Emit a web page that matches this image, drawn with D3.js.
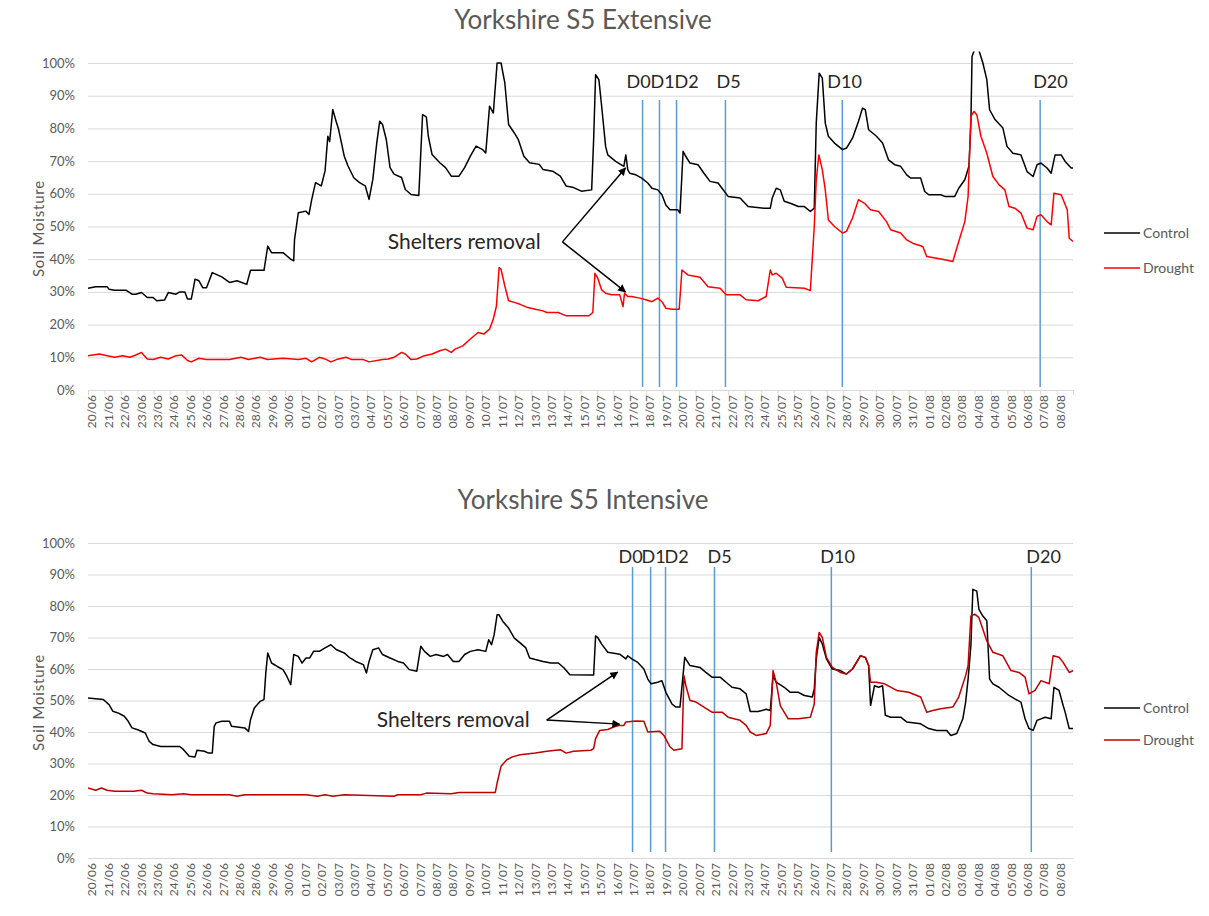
<!DOCTYPE html>
<html>
<head>
<meta charset="utf-8">
<style>
  body { margin: 0; background: #fff; }
  svg text { font-family: Lato, "Open Sans", sans-serif; }
  .gridlines line { stroke: #d9d9d9; }
  .gridlines .domain { stroke: none; }
</style>
<script src="https://d3js.org/d3.v7.min.js"></script>
</head>
<body>
<svg id="chart" width="1209" height="916"></svg>
<script>
// category labels along the x axis (one per tick slot)
const dateLabels = ["20/06","21/06","22/06","23/06","23/06","24/06","25/06","26/06","27/06","28/06","28/06","29/06","30/06",
  "01/07","02/07","03/07","03/07","04/07","05/07","06/07","07/07","08/07","08/07","09/07","10/07","11/07","12/07","13/07","13/07",
  "14/07","15/07","15/07","16/07","17/07","18/07","19/07","20/07","20/07","21/07","22/07","23/07","24/07","25/07","25/07","26/07",
  "27/07","28/07","29/07","30/07","30/07","31/07","01/08","02/08","03/08","04/08","04/08","05/08","06/08","07/08","08/08"];

const yTicks = [0, 10, 20, 30, 40, 50, 60, 70, 80, 90, 100];
const seriesNames = ["Control", "Drought"];
const dayMarks = ["D0", "D1", "D2", "D5", "D10", "D20"];

// [slot, soil moisture %]
const extControl = [[0,31.1],[0.47,31.6],[1.16,31.6],[1.28,30.8],[1.63,30.5],[2.33,30.5],[2.68,29.3],[2.91,29.3],[3.26,29.8],[3.61,28.3],
  [3.96,28.3],[4.19,27.3],[4.66,27.5],[4.89,29.8],[5.36,29.3],[5.59,30],[5.9,30],[6.06,27.8],[6.29,27.8],[6.4,30.6],[6.52,33.9],[6.76,33.4],
  [6.99,31.3],[7.22,31.3],[7.57,35.9],[8.15,34.6],[8.62,32.9],[9.08,33.4],[9.67,32.3],[9.9,36.6],[10.72,36.6],[10.95,44],[11.18,42],
  [11.88,42],[12.35,40],[12.53,39.5],[12.58,46],[12.81,54.2],[13.28,54.7],[13.46,53.7],[13.63,58.3],[13.86,63.4],[14.21,62.4],[14.44,67],
  [14.61,77.6],[14.72,76],[14.91,85.8],[15.14,81.7],[15.25,80],[15.61,71.5],[15.84,68.5],[16.19,64.9],[16.54,63.4],[16.89,62.4],[17.12,58.3],
  [17.35,64.4],[17.59,75.6],[17.77,82.2],[17.94,81.2],[18.17,76.6],[18.4,68],[18.64,66],[19.1,65],[19.33,61.3],[19.68,59.8],[20.15,59.5],
  [20.38,84.2],[20.61,83.5],[20.73,77.6],[20.96,72],[21.43,69.5],[21.78,68],[22.13,65.4],[22.6,65.4],[22.94,68],[23.29,71.5],[23.64,74.6],
  [24.04,73.5],[24.23,72.5],[24.46,86.8],[24.69,84.7],[24.92,100],[25.16,100],[25.39,93.9],[25.62,81.2],[25.97,78.6],[26.21,76.6],
  [26.55,71.5],[26.9,69.5],[27.49,69],[27.72,67.4],[28.3,66.9],[28.77,65.4],[29.12,62.4],[29.58,61.9],[30.05,60.8],[30.68,61.2],[30.8,76.5],
  [30.92,96.4],[31.12,94.9],[31.29,86.7],[31.53,74.5],[31.66,71.9],[32.14,69.9],[32.64,68.4],[32.76,71.9],[32.88,67.3],[33,66.3],[33.37,65.8],
  [33.73,64.8],[34.1,63.3],[34.35,61.7],[34.71,61.2],[34.96,59.7],[35.2,56.6],[35.45,55.1],[35.93,55.1],[36.06,54.1],[36.25,73],[36.42,71.4],
  [36.67,69.4],[37.16,68.9],[37.52,66.3],[37.89,63.8],[38.38,63.3],[38.62,61.7],[38.99,59.2],[39.72,58.7],[40.21,56.1],[41.19,55.6],
  [41.56,55.6],[41.68,58.7],[41.92,61.7],[42.17,61.2],[42.41,57.7],[42.78,57.1],[43.27,56.1],[43.64,56.1],[44,54.6],[44.24,55.6],[44.36,81.6],
  [44.54,96.9],[44.73,95.4],[44.91,81.6],[45.1,77.6],[45.47,75.5],[45.96,73.5],[46.2,74],[46.57,77],[46.93,82.1],[47.18,86.2],[47.35,85.7],
  [47.55,79.6],[48.03,77.6],[48.4,75.5],[48.76,70.4],[49.14,68.9],[49.5,68.4],[49.87,65.8],[50.11,64.8],[50.72,64.8],[50.97,60.7],[51.21,59.7],
  [51.94,59.7],[52.19,59.2],[52.8,59.2],[53.04,61.7],[53.41,64.3],[53.66,68.4],[53.78,81.6],[53.85,102],[54.14,106],[54.51,100],[54.75,94.9],
  [54.92,85.7],[55.25,82.7],[55.73,80.1],[55.98,74.5],[56.34,72.4],[56.83,71.9],[57.2,66.8],[57.57,65.3],[57.81,68.9],[58.05,69.4],[58.42,67.9],
  [58.67,66.3],[58.91,71.9],[59.28,71.9],[59.52,69.9],[59.89,67.9],[60,67.9]];

const extDrought = [[0,10.5],[0.7,11],[1.16,10.5],[1.63,10],[2.1,10.5],[2.56,10],[2.91,10.7],[3.26,11.5],[3.61,9.5],[3.96,9.3],[4.43,10],
  [4.89,9.5],[5.36,10.5],[5.71,10.7],[6.06,9],[6.29,8.6],[6.76,9.7],[7.22,9.3],[8.62,9.3],[9.32,10],[9.78,9.3],[10.48,10],[10.95,9.3],
  [11.88,9.7],[12.81,9.3],[13.28,9.7],[13.63,8.6],[14.09,10],[14.44,9.5],[14.79,8.6],[15.14,9.3],[15.72,10],[16.07,9.3],[16.77,9.3],
  [17.12,8.6],[17.94,9.3],[18.29,9.5],[18.64,10],[19.1,11.5],[19.33,11],[19.68,9.3],[20.03,9.5],[20.5,10.5],[20.96,11],[21.43,12],
  [21.78,12.5],[22.13,11.5],[22.36,12.5],[22.83,13.5],[23.29,15.6],[23.76,17.6],[24.11,17.1],[24.46,18.6],[24.69,21.7],[24.88,25.7],
  [25.04,37.4],[25.16,36.9],[25.39,31.8],[25.62,27.3],[25.97,26.8],[26.32,26.2],[26.79,25.2],[27.25,24.7],[27.72,24.2],[27.95,23.7],
  [28.65,23.7],[28.88,23.2],[29.12,22.7],[30.52,22.7],[30.75,23.7],[30.88,35.7],[31.05,34.2],[31.29,30.6],[31.53,29.6],[31.9,29.1],
  [32.39,29.1],[32.59,25.5],[32.68,29.6],[32.88,28.6],[33.12,28.6],[33.61,28.1],[33.98,27.6],[34.35,27],[34.71,28.1],[34.96,27],[35.2,25],
  [35.57,24.7],[36.01,24.7],[36.18,36.7],[36.54,35.2],[37.28,34.5],[37.77,31.6],[38.5,31.1],[38.87,29.1],[39.72,29.1],[40.09,27.6],
  [40.82,27.3],[41.31,28.6],[41.56,36.7],[41.68,35.2],[41.92,35.7],[42.29,34.2],[42.53,31.4],[43.64,31.1],[44,30.4],[44.24,50],[44.36,64.3],
  [44.52,71.9],[44.73,67.3],[44.91,61.2],[45.1,52],[45.47,50],[45.96,48],[46.2,48.5],[46.57,52.6],[46.93,58.2],[47.3,57.1],[47.67,55.1],
  [48.16,54.6],[48.64,51.5],[48.89,49],[49.5,48],[49.87,45.9],[50.23,44.9],[50.85,43.9],[51.09,40.8],[51.7,40.3],[52.19,39.8],[52.68,39.3],
  [52.92,43.4],[53.41,51.5],[53.61,59.2],[53.78,83.7],[53.97,85.2],[54.14,84.2],[54.39,77.6],[54.75,72.4],[55.12,65.3],[55.49,62.8],
  [55.85,61.2],[56.1,56.1],[56.46,55.6],[56.83,54.1],[57.2,49.5],[57.57,49],[57.81,53.1],[58.05,53.6],[58.42,51.5],[58.67,50.5],[58.84,60.2],
  [59.28,59.7],[59.65,55.1],[59.77,46.4],[60,45.4]];

const intControl = [[0,50.8],[0.93,50.3],[1.28,48.7],[1.51,46.6],[1.86,46],[2.21,45],[2.45,43.4],[2.68,41.3],[3.03,40.7],[3.49,39.7],[3.73,37],
  [3.96,36],[4.43,35.4],[5.59,35.4],[5.82,34.4],[6.17,32.3],[6.52,32.1],[6.64,34.2],[7.1,33.9],[7.34,33.3],[7.57,33.3],[7.69,41.8],[7.8,42.9],
  [8.15,43.4],[8.62,43.4],[8.74,41.8],[9.55,41.3],[9.78,40.2],[9.9,43.9],[10.13,47.6],[10.48,49.7],[10.72,50.3],[10.83,58.7],[10.95,65.1],
  [11.18,61.9],[11.53,60.8],[11.88,59.8],[12.11,57.7],[12.35,55],[12.53,64.6],[12.81,64],[13.04,61.9],[13.28,63.5],[13.51,63.5],[13.74,65.6],
  [14.09,65.6],[14.44,66.7],[14.79,67.7],[15.14,66.1],[15.61,65.1],[15.96,63.5],[16.31,62.4],[16.77,61.4],[16.96,58.7],[17.12,62.4],
  [17.35,66.1],[17.7,66.7],[17.94,64.6],[18.4,63.5],[18.87,62.4],[19.22,61.9],[19.57,59.8],[20.03,59.3],[20.27,67.2],[20.5,65.6],[20.85,64],
  [21.2,64.6],[21.66,64],[21.9,64.6],[22.25,62.4],[22.6,62.4],[22.94,64.6],[23.29,65.6],[23.76,66.1],[24.23,65.6],[24.41,69.3],[24.58,67.7],
  [24.74,70.9],[24.92,77.2],[25.04,77.2],[25.27,75.1],[25.62,73],[25.97,69.8],[26.32,68.3],[26.67,66.7],[26.9,63.5],[27.25,63],[27.72,62.4],
  [28.19,61.9],[28.65,61.9],[29,60.3],[29.35,58.2],[30.8,58.1],[30.92,70.5],[31.05,70],[31.29,67.9],[31.66,65.3],[32.39,64.7],[32.76,63.2],
  [32.88,64.2],[33.12,63.2],[33.49,62.1],[33.86,60],[34.1,56.8],[34.3,55.3],[34.71,55.8],[34.96,56.3],[35.2,52.6],[35.57,48.9],[35.81,47.9],
  [36.06,47.9],[36.35,63.7],[36.67,61.1],[37.28,60.5],[37.64,58.9],[38.01,57.4],[38.5,57.4],[38.87,55.8],[39.23,54.2],[39.72,53.7],
  [40.09,52.1],[40.34,46.5],[40.82,46.5],[41.31,47.2],[41.56,46.8],[41.73,57.9],[41.92,55.8],[42.41,54.2],[42.78,52.6],[43.27,52.6],
  [43.64,51.6],[44.12,51.1],[44.24,53.7],[44.36,63.2],[44.54,70],[44.73,67.9],[44.98,63.2],[45.34,60],[45.83,59.5],[46.2,58.4],[46.57,60],
  [47.05,64.2],[47.35,63.7],[47.55,61.1],[47.67,48.4],[47.91,54.7],[48.16,54.2],[48.4,54.7],[48.57,45.3],[48.89,44.7],[49.5,44.7],
  [49.87,43.2],[50.72,42.6],[51.21,41.1],[51.7,40.5],[52.31,40.5],[52.56,38.9],[52.92,39.5],[53.29,44.2],[53.46,49.5],[53.61,56.8],
  [53.78,67.4],[53.9,85.3],[54.14,84.7],[54.27,78.9],[54.51,76.8],[54.75,75.3],[54.92,56.8],[55.12,55.3],[55.49,54.2],[56.1,51.6],
  [56.46,50.5],[56.83,49.5],[57.08,44.2],[57.32,41.1],[57.57,40.5],[57.81,43.7],[58.3,44.7],[58.67,44.2],[58.84,54.2],[59.15,53.2],
  [59.4,48.4],[59.52,46.3],[59.77,41.1],[60,41.1]];

const intDrought = [[0,22.2],[0.47,21.5],[0.82,22.2],[1.16,21.5],[1.63,21.2],[2.8,21.2],[3.26,21.5],[3.61,20.6],[3.96,20.4],[5.12,20.1],
  [5.82,20.4],[6.29,20.1],[8.62,20.1],[9.08,19.6],[9.55,20.1],[13.28,20.1],[13.98,19.6],[14.44,20.1],[14.91,19.6],[15.61,20.1],[18.64,19.6],
  [18.87,20.1],[20.27,20.1],[20.61,20.6],[22.13,20.4],[22.6,20.8],[24.81,20.8],[24.92,23.8],[25.16,29.1],[25.51,31.2],[25.86,32.1],
  [26.32,32.8],[27.25,33.3],[27.95,33.9],[28.77,34.4],[29.12,33.3],[29.58,33.9],[30.63,34.2],[30.8,34.7],[30.92,37.9],[31.17,40.5],
  [31.66,40.8],[32.02,41.6],[32.39,42.1],[32.64,42.1],[32.76,43.2],[33.37,43.5],[33.86,43.4],[34.1,40],[34.83,40.2],[35.08,38.9],
  [35.45,35.3],[35.69,34.2],[36.18,34.7],[36.3,57.9],[36.42,54.7],[36.67,50],[37.04,49.5],[37.52,47.9],[38.01,46.3],[38.62,46.3],
  [38.99,44.7],[39.72,43.7],[40.09,42.1],[40.34,40],[40.7,38.9],[41.31,39.5],[41.56,42.1],[41.73,59.5],[41.92,55.8],[42.17,48.4],
  [42.65,44.2],[43.27,44.2],[44,44.7],[44.24,48.9],[44.36,65.3],[44.54,71.6],[44.73,70],[44.98,63.7],[45.34,60.5],[45.83,58.9],[46.2,58.4],
  [46.57,60],[47.05,64.2],[47.35,63.7],[47.55,61.1],[47.67,55.8],[48.03,55.8],[48.52,55.3],[49.26,53.2],[49.99,52.6],[50.72,51.1],
  [51.09,46.3],[51.46,46.8],[51.94,47.4],[52.68,47.9],[53.04,51.1],[53.46,57.9],[53.61,61.1],[53.78,76.8],[54.02,77.4],[54.27,76.3],
  [54.51,72.6],[54.75,68.9],[55.12,65.3],[55.73,64.2],[56.22,59.5],[56.71,58.9],[57.08,57.4],[57.32,52.1],[57.69,53.2],[58.05,56.3],
  [58.55,55.3],[58.79,64.2],[59.15,63.7],[59.4,62.1],[59.77,58.9],[60,59.5]];

// where the D-day lines sit, in x slots
const extMarkPos = [33.78, 34.81, 35.85, 38.83, 45.95, 58.0];
const intMarkPos = [33.17, 34.27, 35.18, 38.16, 45.28, 57.46];

const svg = d3.select("#chart");
const margin = {left: 88, right: 135};
const plotRight = 1209 - margin.right - 1;

const defs = svg.append("defs");
defs.append("marker")
  .attr("id", "arrowhead")
  .attr("viewBox", "0 0 10 10")
  .attr("refX", 9).attr("refY", 5)
  .attr("markerWidth", 8).attr("markerHeight", 8)
  .attr("markerUnits", "userSpaceOnUse")
  .attr("orient", "auto")
  .append("path").attr("d", "M0,0 L10,5 L0,10 z").attr("fill", "#000");

function drawPanel(p) {
  const x = d3.scaleLinear().domain([0, 60]).range([margin.left, plotRight]);
  const y = d3.scaleLinear().domain([0, 100]).range([p.bottom, p.top]);

  const g = svg.append("g");

  g.append("text")
    .attr("x", 583).attr("y", p.titleY)
    .attr("text-anchor", "middle")
    .attr("font-size", 26)
    .attr("fill", "#595959")
    .text(p.title);

  // horizontal gridlines
  g.append("g")
    .attr("class", "gridlines")
    .attr("transform", "translate(" + margin.left + ",0)")
    .call(d3.axisLeft(y).tickValues(yTicks).tickSize(-(plotRight - margin.left)).tickFormat(""));

  // y labels
  g.selectAll(".ylab").data(yTicks).enter().append("text")
    .attr("x", 75).attr("y", d => y(d))
    .attr("dy", "0.35em")
    .attr("text-anchor", "end")
    .attr("font-size", 13)
    .attr("fill", "#595959")
    .text(d => d + "%");

  g.append("text")
    .attr("transform", "translate(44," + ((p.top + p.bottom) / 2 + 2) + ") rotate(-90)")
    .attr("text-anchor", "middle")
    .attr("font-size", 15)
    .attr("letter-spacing", 0.8)
    .attr("fill", "#595959")
    .text("Soil Moisture");

  // x axis
  const xAxis = d3.axisBottom(x)
    .tickValues(d3.range(0, 61))
    .tickSize(p.tickLen)
    .tickFormat("");
  const ax = g.append("g")
    .attr("transform", "translate(0," + p.bottom + ")")
    .call(xAxis);
  ax.select(".domain").attr("stroke", "#d9d9d9");
  ax.selectAll(".tick line").attr("stroke", "#d9d9d9");

  g.selectAll(".xlab").data(dateLabels).enter().append("text")
    .attr("transform", (d, i) => "translate(" + x(i + 0.25) + "," + (p.bottom + 5) + ") rotate(-90)")
    .attr("dy", "0.35em")
    .attr("text-anchor", "end")
    .attr("font-size", 12)
    .attr("fill", "#595959")
    .text(d => d);

  // D-day markers
  g.selectAll(".mark").data(p.marks).enter().append("line")
    .attr("x1", d => x(d)).attr("x2", d => x(d))
    .attr("y1", y(p.markTop)).attr("y2", y(p.markBottom))
    .attr("stroke", "#5b9bd5")
    .attr("stroke-width", 1.5);

  g.selectAll(".marklab").data(dayMarks).enter().append("text")
    .attr("x", (d, i) => x(p.marks[i]) + p.markShift[i])
    .attr("y", p.markLabelY)
    .attr("dy", "0.35em")
    .attr("text-anchor", "start")
    .attr("font-size", 18)
    .attr("fill", "#262626")
    .text(d => d);

  // series
  const clipId = "clip" + p.id;
  defs.append("clipPath").attr("id", clipId)
    .append("rect")
    .attr("x", margin.left).attr("y", y(103.5))
    .attr("width", plotRight - margin.left).attr("height", y(0) - y(103.5));

  const line = d3.line().x(d => x(d[0])).y(d => y(d[1]));
  const colors = ["#000000", p.droughtColor];
  [p.control, p.drought].forEach((s, i) => {
    g.append("path")
      .datum(s)
      .attr("clip-path", "url(#" + clipId + ")")
      .attr("fill", "none")
      .attr("stroke", colors[i])
      .attr("stroke-width", 1.5)
      .attr("stroke-linejoin", "round")
      .attr("d", line);
  });

  // annotation
  const a = p.note;
  g.append("text")
    .attr("x", x(a.textEnd)).attr("y", y(a.tail[1]))
    .attr("dy", "0.35em")
    .attr("text-anchor", "end")
    .attr("font-size", 21)
    .attr("fill", "#262626")
    .text("Shelters removal");
  a.heads.forEach(h => {
    g.append("line")
      .attr("x1", x(a.tail[0])).attr("y1", y(a.tail[1]))
      .attr("x2", x(h[0])).attr("y2", y(h[1]))
      .attr("stroke", "#000")
      .attr("stroke-width", 1.5)
      .attr("marker-end", "url(#arrowhead)");
  });

  // legend
  seriesNames.forEach((name, i) => {
    const ly = p.legendY[i];
    g.append("line")
      .attr("x1", 1104).attr("x2", 1140)
      .attr("y1", ly).attr("y2", ly)
      .attr("stroke", colors[i]).attr("stroke-width", 1.5);
    g.append("text")
      .attr("x", 1143).attr("y", ly)
      .attr("dy", "0.35em")
      .attr("font-size", 14)
      .attr("fill", "#595959")
      .text(name);
  });
}

drawPanel({
  id: "ext", title: "Yorkshire S5 Extensive", titleY: 29, top: 63, bottom: 390, tickLen: 5,
  control: extControl, drought: extDrought, droughtColor: "#ff0000",
  marks: extMarkPos, markTop: 88.7, markBottom: 0.9, markLabelY: 82, markShift: [-16, -9, -2, -9, -15, -7],
  note: {textEnd: 27.57, tail: [28.9, 45.3], heads: [[32.74, 67.9], [32.74, 30.0]]},
  legendY: [233, 268]
});

drawPanel({
  id: "int", title: "Yorkshire S5 Intensive", titleY: 509, top: 543, bottom: 858, tickLen: 0,
  control: intControl, drought: intDrought, droughtColor: "#c00000",
  marks: intMarkPos, markTop: 92.4, markBottom: 1.9, markLabelY: 557, markShift: [-14, -9, -1, -7, -11, -5],
  note: {textEnd: 26.9, tail: [27.94, 43.8], heads: [[32.26, 59], [32.38, 42.5]]},
  legendY: [708, 740]
});
</script>
</body>
</html>
